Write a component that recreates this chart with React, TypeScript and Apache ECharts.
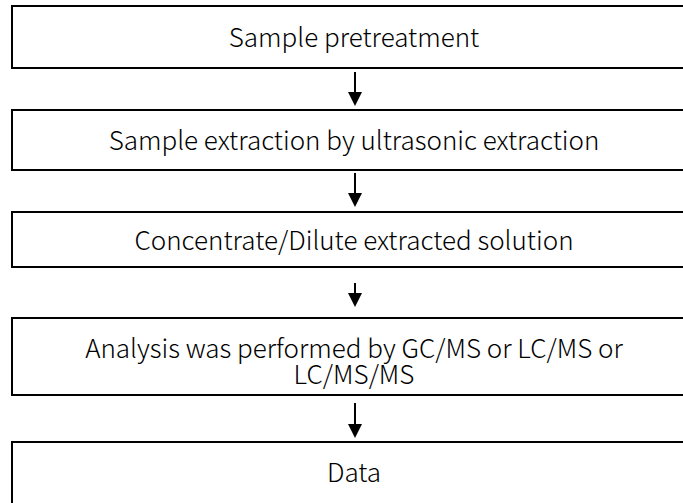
import React, { useEffect, useRef } from "react";
import * as echarts from "echarts";

const steps: string[] = [
  "Sample pretreatment",
  "Sample extraction by ultrasonic extraction",
  "Concentrate/Dilute extracted solution",
  "Analysis was performed by GC/MS or LC/MS or\nLC/MS/MS",
  "Data",
];

// layout (pixels): top and bottom of each box
const boxTops = [6, 110, 212, 318, 442];
const boxBottoms = [68, 170, 267, 395, 504];
const textCenters = [35.5, 138.5, 238, 359.5, 470.5];
const arrowStarts = [72, 173, 283, 403];
const arrowTips = [106, 207, 307, 438];

const BOX_LEFT = 12;
const BOX_RIGHT = 697;
const CX = 355;
const FONT = "'Noto Sans CJK TC', 'Noto Sans', sans-serif";

export default function App() {
  const ref = useRef<HTMLDivElement>(null);
  useEffect(() => {
    if (!ref.current) return;
    const chart = echarts.init(ref.current, undefined, { renderer: "svg" });
    const elements: any[] = [];
    steps.forEach((label, i) => {
      elements.push({
        type: "rect",
        shape: {
          x: BOX_LEFT,
          y: boxTops[i],
          width: BOX_RIGHT - BOX_LEFT,
          height: boxBottoms[i] - boxTops[i],
        },
        style: { fill: "#ffffff", stroke: "#000000", lineWidth: 2 },
      });
      elements.push({
        type: "text",
        x: 354,
        y: textCenters[i],
        style: {
          text: label,
          fill: "#000000",
          font: `300 26px ${FONT}`,
          align: "center",
          verticalAlign: "middle",
          lineHeight: 26,
        },
      });
    });
    arrowStarts.forEach((s, i) => {
      const tip = arrowTips[i];
      elements.push({
        type: "line",
        shape: { x1: CX, y1: s, x2: CX, y2: tip - 12 },
        style: { stroke: "#000000", lineWidth: 2 },
      });
      elements.push({
        type: "polygon",
        shape: {
          points: [
            [CX - 7, tip - 14],
            [CX + 7, tip - 14],
            [CX, tip],
          ],
        },
        style: { fill: "#000000" },
      });
    });
    chart.setOption({
      animation: false,
      backgroundColor: "#ffffff",
      graphic: { elements },
    });
    return () => chart.dispose();
  }, []);
  return (
    <div
      ref={ref}
      style={{ position: "fixed", left: 0, top: 0, width: 683, height: 503 }}
    />
  );
}
